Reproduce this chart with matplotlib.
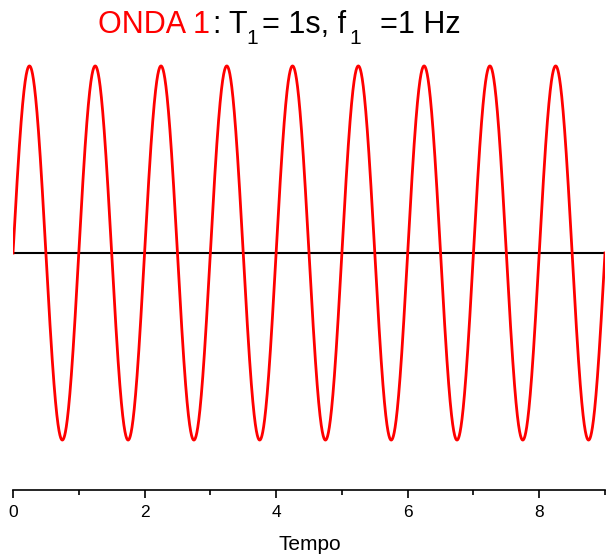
import numpy as np
import matplotlib
matplotlib.use("Agg")
import matplotlib.pyplot as plt
from matplotlib.ticker import MultipleLocator

# Wave parameters (from title: T1 = 1 s, f1 = 1 Hz)
period = 1.0
amplitude = 1.0
t_start, t_end = 0.0, 9.0
major_ticks = [0, 2, 4, 6, 8]
tick_labels = ["0", "2", "4", "6", "8"]

t = np.linspace(t_start, t_end, 4000)
y = amplitude * np.sin(2 * np.pi * t / period)

plt.rcParams['font.family'] = ['Liberation Sans', 'DejaVu Sans']

W, H = 608, 554
fig = plt.figure(figsize=(W/100, H/100), dpi=100)
ax = fig.add_axes([13/W, 1 - 490/H, (605-13)/W, (490-16)/H])
ax.plot(t, y, color='#ff0000', lw=2.0, zorder=3)
ax.plot([t_start, t_end], [0, 0], color='black', lw=1.5, zorder=2)
ax.set_xlim(t_start, t_end)
ax.set_ylim(-1.267, 1.267)
for s in ['top', 'right', 'left']:
    ax.spines[s].set_visible(False)
ax.spines['bottom'].set_linewidth(1.2)
ax.set_yticks([])
ax.set_xticks(major_ticks)
ax.set_xticklabels(tick_labels)
ax.xaxis.set_minor_locator(MultipleLocator(1))
ax.tick_params(axis='x', which='major', length=6, width=1.2, labelsize=12.5, pad=5, direction='out')
ax.tick_params(axis='x', which='minor', length=3.5, width=1.2, direction='out')
ax.set_xlabel("Tempo", fontsize=15, va='baseline')
ax.xaxis.set_label_coords(309.5 / W, 1 - 550 / H, transform=fig.transFigure)

# Title with mixed colors and subscripts (left x in px, baseline y in px from top)
pieces = [
    ("ONDA 1", 'red', 22, 97.5, 33),
    (":", 'black', 22, 212, 33),
    ("T", 'black', 22, 228.5, 33),
    ("1", 'black', 15, 246.5, 44),
    ("= 1s, f", 'black', 22, 261.5, 33),
    ("1", 'black', 15, 349.5, 44),
    ("=1 Hz", 'black', 22, 380.5, 33),
]
for s, c, fs, xp, yp in pieces:
    fig.text(xp / W, 1 - yp / H, s, color=c, fontsize=fs,
             ha='left', va='baseline')

fig.savefig("out.png", dpi=100)
